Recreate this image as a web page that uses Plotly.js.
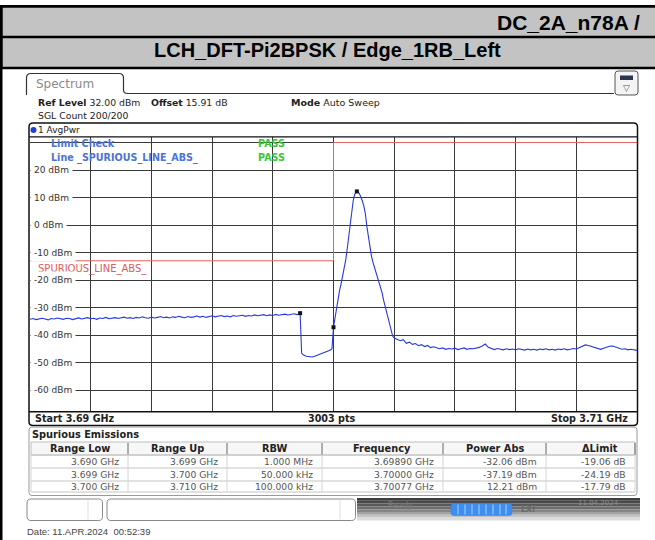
<!DOCTYPE html>
<html><head><meta charset="utf-8">
<script src="https://cdn.plot.ly/plotly-3.0.1.min.js"></script>
<style>html,body{margin:0;padding:0;background:#fff;}#chart{width:655px;height:540px;}</style>
</head><body><div id="chart"></div>
<script>
// ---------------- DATA ----------------
const headerTitle = 'DC_2A_n78A /';
const subTitle = 'LCH_DFT-Pi2BPSK / Edge_1RB_Left';

const traceFreqMHz = [
 3690.0,3690.1,3690.2,3690.3,3690.4,3690.5,3690.6,3690.7,3690.8,3690.9,
 3691.0,3691.1,3691.2,3691.3,3691.4,3691.5,3691.6,3691.7,3691.8,3691.9,
 3692.0,3692.1,3692.2,3692.3,3692.4,3692.5,3692.6,3692.7,3692.8,3692.9,
 3693.0,3693.1,3693.2,3693.3,3693.4,3693.5,3693.6,3693.7,3693.8,3693.9,
 3694.0,3694.1,3694.2,3694.3,3694.4,3694.5,3694.6,3694.7,3694.8,3694.9,
 3695.0,3695.1,3695.2,3695.3,3695.4,3695.5,3695.6,3695.7,3695.8,3695.9,
 3696.0,3696.1,3696.2,3696.3,3696.4,3696.5,3696.6,3696.7,3696.8,3696.9,
 3697.0,3697.1,3697.2,3697.3,3697.4,3697.5,3697.6,3697.7,3697.8,3697.9,
 3698.0,3698.1,3698.2,3698.3,3698.4,3698.5,3698.6,3698.7,3698.8,3698.9,
 3698.95,3699.0,3699.1,3699.2,3699.3,3699.4,3699.5,3699.6,3699.7,3699.8,3699.9,3699.95,
 3700.0,3700.05,3700.1,3700.15,3700.2,3700.25,3700.3,3700.35,3700.4,3700.45,
 3700.5,3700.55,3700.6,3700.65,3700.7,3700.77,3700.85,3700.9,3700.95,3701.0,
 3701.05,3701.1,3701.15,3701.2,3701.25,3701.3,3701.35,3701.4,3701.45,3701.5,
 3701.55,3701.6,3701.65,3701.7,3701.75,3701.8,3701.85,3701.9,3701.95,3702.0,
 3702.1,3702.2,3702.3,3702.4,3702.5,3702.6,3702.7,3702.8,3702.9,3703.0,3703.1,3703.2,3703.3,
 3703.4,3703.5,3703.6,3703.7,3703.8,3703.9,
 3704.0,3704.1,3704.2,3704.3,3704.4,3704.5,3704.6,3704.7,3704.8,3704.9,
 3705.0,3705.1,3705.2,3705.3,3705.4,3705.5,3705.6,3705.7,3705.8,3705.9,
 3706.0,3706.1,3706.2,3706.3,3706.4,3706.5,3706.6,3706.7,3706.8,3706.9,
 3707.0,3707.1,3707.2,3707.3,3707.4,3707.5,3707.6,3707.7,3707.8,3707.9,
 3708.0,3708.1,3708.2,3708.3,3708.4,3708.5,3708.6,3708.7,3708.8,3708.9,
 3709.0,3709.1,3709.2,3709.3,3709.4,3709.5,3709.6,3709.7,3709.8,3709.9,
 3710.0
];
const tracePowerDbm = [
 -34.3,-34.0,-34.4,-34.1,-33.9,-34.2,-34.5,-34.0,-34.2,-33.8,
 -34.1,-34.3,-33.9,-34.0,-34.4,-34.1,-33.8,-34.2,-34.0,-33.7,
 -34.1,-33.9,-34.3,-33.8,-34.0,-33.6,-34.1,-33.9,-33.7,-34.0,
 -33.8,-33.5,-33.9,-33.7,-34.0,-33.6,-33.8,-33.4,-33.7,-33.9,
 -33.5,-33.8,-33.6,-33.3,-33.7,-33.5,-33.8,-33.4,-33.6,-33.2,
 -33.5,-33.7,-33.3,-33.6,-33.4,-33.1,-33.5,-33.2,-33.6,-33.3,
 -33.0,-33.4,-33.2,-32.9,-33.3,-33.1,-33.4,-32.9,-33.2,-33.0,
 -32.8,-33.2,-32.9,-33.1,-32.7,-33.0,-32.8,-32.6,-33.0,-32.7,
 -32.9,-32.5,-32.8,-32.6,-32.4,-32.7,-32.5,-32.3,-32.6,-32.06,
 -46.6,-47.2,-47.7,-47.9,-48.0,-47.6,-47.1,-46.8,-46.3,-45.9,-45.5,-45.0,
 -37.19,-33.4,-29.8,-27.0,-23.8,-21.4,-18.9,-15.6,-12.9,-8.8,
 -4.2,0.8,5.4,8.9,11.2,12.21,11.5,10.4,8.8,6.9,
 4.1,-0.6,-4.6,-7.9,-11.2,-13.6,-15.4,-16.9,-18.8,-20.2,
 -22.5,-24.6,-27.3,-29.6,-32.0,-34.1,-35.9,-38.2,-40.4,-41.1,
 -41.6,-42.1,-41.7,-43.0,-42.6,-43.4,-43.1,-43.9,-43.5,-44.2,-43.8,-44.6,-44.3,
 -44.6,-45.0,-44.7,-45.2,-44.9,-45.1,
 -44.8,-45.3,-45.0,-44.7,-45.2,-44.9,-45.0,-44.8,-44.5,-44.0,
 -43.3,-44.5,-45.0,-45.3,-44.9,-45.2,-45.4,-45.0,-45.3,-45.1,
 -45.4,-45.0,-45.3,-45.5,-45.1,-45.4,-45.2,-45.5,-45.1,-45.3,
 -45.0,-45.4,-45.2,-45.5,-45.1,-45.3,-45.0,-45.4,-45.2,-44.9,
 -45.1,-44.6,-44.0,-43.6,-43.8,-44.2,-44.6,-45.0,-45.2,-44.8,
 -44.4,-44.1,-44.0,-44.4,-44.9,-45.2,-45.0,-45.4,-45.2,-45.5,
 -45.6
];
const markerFreqMHz = [3698.9, 3700.0, 3700.77];
const markerPowerDbm = [-32.06, -37.19, 12.21];
const limitFreqMHz = [3690, 3700, 3700, 3710];
const limitDbm = [-13, -13, 30, 30];
const yTickValues = [20, 10, 0, -10, -20, -30, -40, -50, -60];
const yTickLabels = ['20 dBm','10 dBm','0 dBm','-10 dBm','-20 dBm','-30 dBm','-40 dBm','-50 dBm','-60 dBm'];
const refLevelText = '32.00 dBm', offsetText = '15.91 dB', modeText = 'Auto Sweep', sglText = 'SGL Count 200/200';
const startText = 'Start 3.69 GHz', ptsText = '3003 pts', stopText = 'Stop 3.71 GHz';
const tableHeaders = ['Range Low','Range Up','RBW','Frequency','Power Abs','\u0394Limit'];
const rangeLow = ['3.690 GHz','3.699 GHz','3.700 GHz'];
const rangeUp = ['3.699 GHz','3.700 GHz','3.710 GHz'];
const rbw = ['1.000 MHz','50.000 kHz','100.000 kHz'];
const spurFreq = ['3.69890 GHz','3.70000 GHz','3.70077 GHz'];
const powerAbs = [-32.06, -37.19, 12.21];
const deltaLimit = [-19.06, -24.19, -17.79];
const dateText = 'Date: 11.APR.2024  00:52:39';

// ---------------- LAYOUT HELPERS ----------------
const L = 30, R = 637, T = 137, B = 412;
const fx = x => (x - L) / (R - L);
const fy = y => (B - y) / (B - T);
const shapes = [], ann = [];
const INST = 'DejaVu Sans, Liberation Sans, sans-serif';
const ARIAL = 'Liberation Sans, Arial, sans-serif';
function rect(x0, y0, x1, y1, fill, lc, lw, layer) {
  shapes.push({type:'rect', xref:'paper', yref:'paper', x0:fx(x0), x1:fx(x1), y0:fy(y1), y1:fy(y0),
    fillcolor: fill || 'rgba(0,0,0,0)', line:{color: lc || 'rgba(0,0,0,0)', width: lw || 0}, layer: layer || 'above'});
}
function line(x0, y0, x1, y1, c, w) {
  shapes.push({type:'line', xref:'paper', yref:'paper', x0:fx(x0), x1:fx(x1), y0:fy(y0), y1:fy(y1),
    line:{color:c, width:w}, layer:'above'});
}
function P(x, y) { return fx(x).toFixed(5) + ',' + fy(y).toFixed(5); }
function rrect(x0, y0, x1, y1, r, lc, lw, fill) {
  const d = 'M' + P(x0 + r, y0) + 'L' + P(x1 - r, y0) + 'Q' + P(x1, y0) + ' ' + P(x1, y0 + r) +
    'L' + P(x1, y1 - r) + 'Q' + P(x1, y1) + ' ' + P(x1 - r, y1) +
    'L' + P(x0 + r, y1) + 'Q' + P(x0, y1) + ' ' + P(x0, y1 - r) +
    'L' + P(x0, y0 + r) + 'Q' + P(x0, y0) + ' ' + P(x0 + r, y0) + 'Z';
  shapes.push({type:'path', xref:'paper', yref:'paper', path:d, line:{color:lc, width:lw},
    fillcolor: fill || 'rgba(0,0,0,0)', layer:'above'});
}
function txt(x, y, text, size, color, anchor, family, extra) {
  ann.push(Object.assign({xref:'paper', yref:'paper', x:fx(x), y:fy(y), text:text, showarrow:false,
    xanchor: anchor || 'left', yanchor:'middle', borderpad:0,
    font:{family: family || INST, size: size, color: color}}, extra || {}));
}

// ---- report header bands ----
rect(0, 5, 655, 69.3, '#000');
rect(2.5, 7.7, 655, 35.7, '#c3c3c3');
rect(2.5, 38.3, 655, 66.7, '#c3c3c3');
rect(0, 5, 2.5, 540, '#000');
txt(568, 22.5, '<b>' + headerTitle + '</b>', 21, '#000', 'center', ARIAL);
txt(327, 49.5, '<b>' + subTitle + '</b>', 20, '#000', 'center', ARIAL);

// ---- spectrum tab ----
shapes.push({type:'path', xref:'paper', yref:'paper', layer:'above', line:{color:'#333', width:1.2},
  path:'M' + P(26.5, 95) + 'L' + P(26.5, 78) + 'Q' + P(26.5, 73.5) + ' ' + P(31, 73.5) + 'L' + P(119, 73.5) +
       'Q' + P(123.5, 73.5) + ' ' + P(123.5, 78) + 'L' + P(123.5, 90) + 'Q' + P(123.5, 93.5) + ' ' + P(127.5, 93.5) +
       'L' + P(614, 93.5)});
txt(35, 84, 'Spectrum', 12, '#8a8a8a', 'left', INST);
rrect(615, 71, 638, 95, 3, '#555', 1, '#f4f4f4');
rect(620, 75.5, 633, 80, '#2c3550');
txt(626.5, 87.5, '\u25BD', 9, '#555', 'center', INST);

// ---- setting lines ----
txt(37, 102.5, '<b>Ref Level</b> ' + refLevelText, 9.3, '#222');
txt(150, 102.5, '<b>Offset</b> ' + offsetText, 9.3, '#222');
txt(290, 102.5, '<b>Mode</b> ' + modeText, 9.5, '#222');
txt(37, 116, sglText, 9.3, '#222');

// ---- in-plot texts ----
txt(50, 143.5, '<b>Limit Check</b>', 9.6, '#4b74d6');
txt(256.5, 143.5, '<b>PASS</b>', 9.6, '#3cc43c');
txt(50, 157.5, '<b>Line _SPURIOUS_LINE_ABS_</b>', 9.6, '#4b74d6');
txt(256.5, 157.5, '<b>PASS</b>', 9.6, '#3cc43c');
txt(30.5, 268.5, '_SPURIOUS_LINE_ABS_', 10, '#e05a5a');
yTickValues.forEach((v, i) => {
  ann.push({xref:'paper', yref:'y', x:fx(29.5), y:v, text:yTickLabels[i], showarrow:false, xanchor:'left',
    yanchor:'middle', bgcolor:'#fff', borderpad:3, font:{family:INST, size:9, color:'#333'}});
});

// ---- trace window frame (drawn after labels' positions are set; shapes sit under annotations) ----
rrect(29, 123, 637.5, 425.5, 4, '#111', 1.5);
line(29, 136.8, 637.5, 136.8, '#111', 1.3);
line(29, 411.8, 637.5, 411.8, '#111', 1.5);
shapes.push({type:'circle', xref:'paper', yref:'paper', x0:fx(30.5), x1:fx(36.5), y0:fy(133), y1:fy(127),
  fillcolor:'#1f3fd6', line:{width:0}, layer:'above'});
txt(37, 130, '1 AvgPwr', 9, '#222');

// ---- footer row ----
txt(34, 418.7, '<b>' + startText + '</b>', 9.6, '#222');
txt(331, 418.7, '<b>' + ptsText + '</b>', 9.6, '#222', 'center');
txt(629, 418.7, '<b>' + stopText + '</b>', 9.6, '#222', 'right');

// ---- spurious emissions table ----
rrect(29, 427, 637, 495.5, 3, '#9a9a9a', 1, '#fff');
txt(31, 434.5, '<b>Spurious Emissions</b>', 9.8, '#222');
const colB = [31, 128, 227, 322, 443, 546, 635];
const headCenter = [79.5, 177.5, 274.5, 382.5, 494.5, 600];
rect(31, 442, 635, 455, '#f7f7f7', '#b0b0b0', 0.8);
for (let i = 1; i < colB.length; i++) line(colB[i], 443, colB[i], 455, '#666', 1);
tableHeaders.forEach((h, i) => txt(headCenter[i], 448.7, '<b>' + h + '</b>', 9.8, '#222', 'center'));
[455, 468, 481, 492].forEach(y => line(31, y, 635, y, '#c4c4c4', 1));
colB.forEach(x => line(x, 455, x, 492, '#d4d4d4', 1));
const rowY = [461.5, 474.5, 486.5];
const cols = [rangeLow, rangeUp, rbw, spurFreq,
  powerAbs.map(v => v.toFixed(2) + ' dBm'), deltaLimit.map(v => v.toFixed(2) + ' dB')];
cols.forEach((col, c) => col.forEach((s, r) => txt(colB[c + 1] - 8, rowY[r], s, 9.2, '#555', 'right')));

// ---- status bar ----
rrect(27, 499, 102.5, 520.5, 4, '#888', 1, '#fff');
line(88, 500, 88, 519.5, '#ddd', 1);
rrect(107, 499, 355.5, 520.5, 4, '#888', 1, '#fff');
line(340, 500, 340, 519.5, '#ddd', 1);
const barCols = ['#3e3e3e', '#4a4a4a', '#5a5a5a', '#6e6e6e', '#868686', '#a2a2a2', '#c2c2c2', '#dcdcdc'];
barCols.forEach((c, i) => rect(357, 498 + i * 2.8, 640, 498 + (i + 1) * 2.8, c));
txt(400, 505, 'Ready', 8, '#7a7a7a', 'center');
rrect(451, 503.5, 512, 515.5, 3, '#3a7fe0', 0.5, '#3d8ef0');
[458, 465, 472, 479, 486, 493, 500, 506].forEach(x => line(x, 504.5, x, 514.5, '#cfe3ff', 0.8));
txt(528, 509, '<b><i>LXI</i></b>', 8, '#6a6a6a', 'center');
txt(598, 503, '11.04.2024', 7, '#8e8e8e', 'center');

txt(26, 531, dateText, 9.5, '#444', 'left', ARIAL);

// ---------------- TRACES ----------------
const data = [
  {x: limitFreqMHz, y: limitDbm, type:'scatter', mode:'lines', line:{color:'#e06464', width:1}, hoverinfo:'skip'},
  {x: traceFreqMHz, y: tracePowerDbm, type:'scatter', mode:'lines', line:{color:'#2538e0', width:1.1}, name:'1 AvgPwr'},
  {x: markerFreqMHz, y: markerPowerDbm, type:'scatter', mode:'markers', marker:{symbol:'square', size:4, color:'#111'}}
];
const layout = {
  width:655, height:540, autosize:false, showlegend:false,
  margin:{l:L, r:655 - R, t:T, b:540 - B, pad:0},
  paper_bgcolor:'#fff', plot_bgcolor:'#fff',
  xaxis:{range:[3690, 3710], dtick:2, tick0:3690, showticklabels:false, ticks:'', showgrid:true,
         gridcolor:'#3a3a3a', gridwidth:1, zeroline:false, showline:false, fixedrange:true},
  yaxis:{range:[-68, 32], dtick:10, tick0:0, showticklabels:false, ticks:'', showgrid:true,
         gridcolor:'#3a3a3a', gridwidth:1, zeroline:false, showline:false, fixedrange:true},
  shapes: shapes, annotations: ann
};
Plotly.newPlot('chart', data, layout, {staticPlot:true, displayModeBar:false});
</script></body></html>
